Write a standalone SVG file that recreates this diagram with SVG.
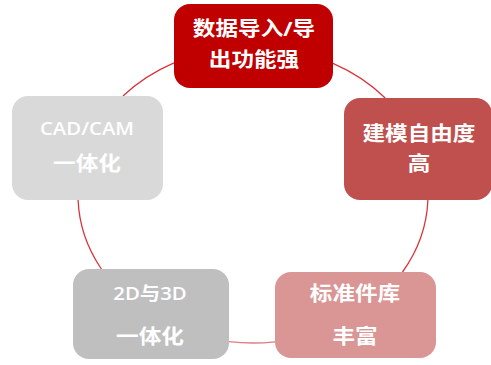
<svg xmlns="http://www.w3.org/2000/svg" width="491" height="365" viewBox="0 0 491 365">
<style>
.t{font-family:"Open Sans","Noto Sans CJK SC",sans-serif;font-weight:700;fill:#FFFFFF;text-anchor:middle}
.c{font-size:20px}
.l{font-size:18px;font-weight:600}
.arc{fill:none;stroke:#D8343A;stroke-width:1.3}
</style>
<rect width="491" height="365" fill="#FFFFFF"/>
<g id="connectors">
<path class="arc" d="M123,96 A175,148 0 0 1 174,62.9"/>
<path class="arc" d="M333,63.4 A175,148 0 0 1 385.2,98"/>
<path class="arc" d="M427.9,200 A175,148 0 0 1 402.5,272"/>
<path class="arc" d="M275,341.8 A175,148 0 0 1 229,341.6" style="stroke:#E07C80"/>
<path class="arc" d="M101.4,269 A175,148 0 0 1 78.1,200"/>
</g>
<g id="node-import-export">
<rect x="174" y="4" width="159" height="84" rx="16" fill="#C00000"/>
<text class="t c" transform="translate(254,36) scale(1.13,1)">数据导入/导</text>
<text class="t c" transform="translate(254,67) scale(1.13,1)">出功能强</text>
</g>
<g id="node-modeling">
<rect x="344" y="98" width="148" height="102" rx="16" fill="#C0504D"/>
<text class="t c" transform="translate(419,141) scale(1.13,1)">建模自由度</text>
<text class="t c" transform="translate(419,171) scale(1.13,1)">高</text>
</g>
<g id="node-standard-lib">
<rect x="275" y="272" width="161" height="86" rx="16" fill="#D99694"/>
<text class="t c" transform="translate(355,301) scale(1.13,1)">标准件库</text>
<text class="t c" transform="translate(355,344) scale(1.13,1)">丰富</text>
</g>
<g id="node-2d3d">
<rect x="73" y="269" width="156" height="90" rx="16" fill="#BFBFBF"/>
<text class="t l" transform="translate(150,300) scale(1.13,1)">2D与3D</text>
<text class="t c" transform="translate(150,344) scale(1.13,1)">一体化</text>
</g>
<g id="node-cadcam">
<rect x="12" y="96" width="151" height="104" rx="16" fill="#D9D9D9"/>
<text class="t l" transform="translate(87,135) scale(1.13,1)">CAD/CAM</text>
<text class="t c" transform="translate(87,171) scale(1.13,1)">一体化</text>
</g>
</svg>
